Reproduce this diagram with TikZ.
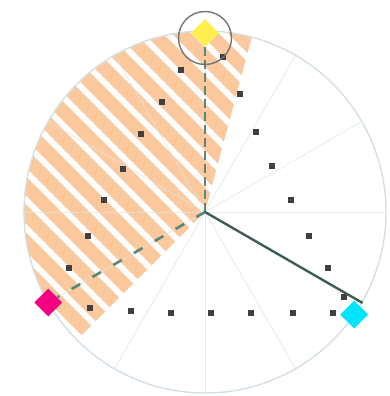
\documentclass[tikz,border=0pt]{standalone}
\usetikzlibrary{shapes.geometric}
\definecolor{peach}{RGB}{252,201,158}
\definecolor{rimc}{RGB}{210,225,224}
\definecolor{spokec}{RGB}{218,230,227}
\definecolor{armc}{RGB}{90,135,118}
\definecolor{armdark}{RGB}{62,94,80}
\definecolor{dotc}{RGB}{64,64,64}
\definecolor{yel}{RGB}{255,240,80}
\definecolor{mag}{RGB}{245,0,130}
\definecolor{cya}{RGB}{0,228,255}
\tikzset{
  dotbox/.style={fill=dotc,minimum size=6.5pt,inner sep=0pt,draw=none},
  gem/.style={shape=diamond,minimum width=28pt,minimum height=28pt,inner sep=0pt,draw=none},
  spoke/.style={draw=spokec,line width=0.9pt},
  arm/.style={draw=armc,line width=2.6pt},
}
\begin{document}
\begin{tikzpicture}[x=1pt,y=1pt]
\useasboundingbox (-205,-184) rectangle (185,212);
\coordinate (O) at (0,0);
% hatched sector
\begin{scope}
\clip (0,0) -- (75:181) arc[start angle=75,end angle=225,radius=181] -- cycle;
\foreach \k in {-16,...,16}{
  \draw[peach,line width=13.5pt] (-300,{-13+28*\k+300}) -- (300,{-13+28*\k-300});
}
\end{scope}
% spokes
\foreach \a in {0,30,...,330}{
  \draw[spoke,opacity=0.7] (O) -- (\a:181);
}
\draw[draw=rimc,line width=1.4pt] (O) circle[radius=181];
% dots
\foreach \p [count=\i] in {(-24,142),(-43,110),(-64,78),(-82,43),(-101,12),(-117,-24),(-136,-56),(-115,-96),
  (-74,-99),(-34,-101),(6,-101),(46,-101),(88,-101),(128,-101),
  (139,-85),(123,-56),(104,-24),(86,12),(67,46),(51,80),(35,118),(18,155)}{
  \node[dotbox] (d\i) at \p {};
}
% markers
\node[gem,fill=yel] (yel) at (0,179) {};
\node[gem,fill=mag] (mag) at (210:181) {};
\node[gem,fill=cya] (cya) at (-34.5:181) {};
\coordinate (tip) at (-30:182);
\draw[arm,dash pattern=on 9pt off 4pt] (O) -- (yel);
\draw[arm,dash pattern=on 10pt off 14pt] (O) -- (mag);
\draw[draw=armdark,line width=2.4pt] (O) -- (tip);
\node[draw=gray!90!black,line width=1.4pt,circle,minimum size=53pt,inner sep=0pt] (ring) at (0,174) {};
\end{tikzpicture}
\end{document}
